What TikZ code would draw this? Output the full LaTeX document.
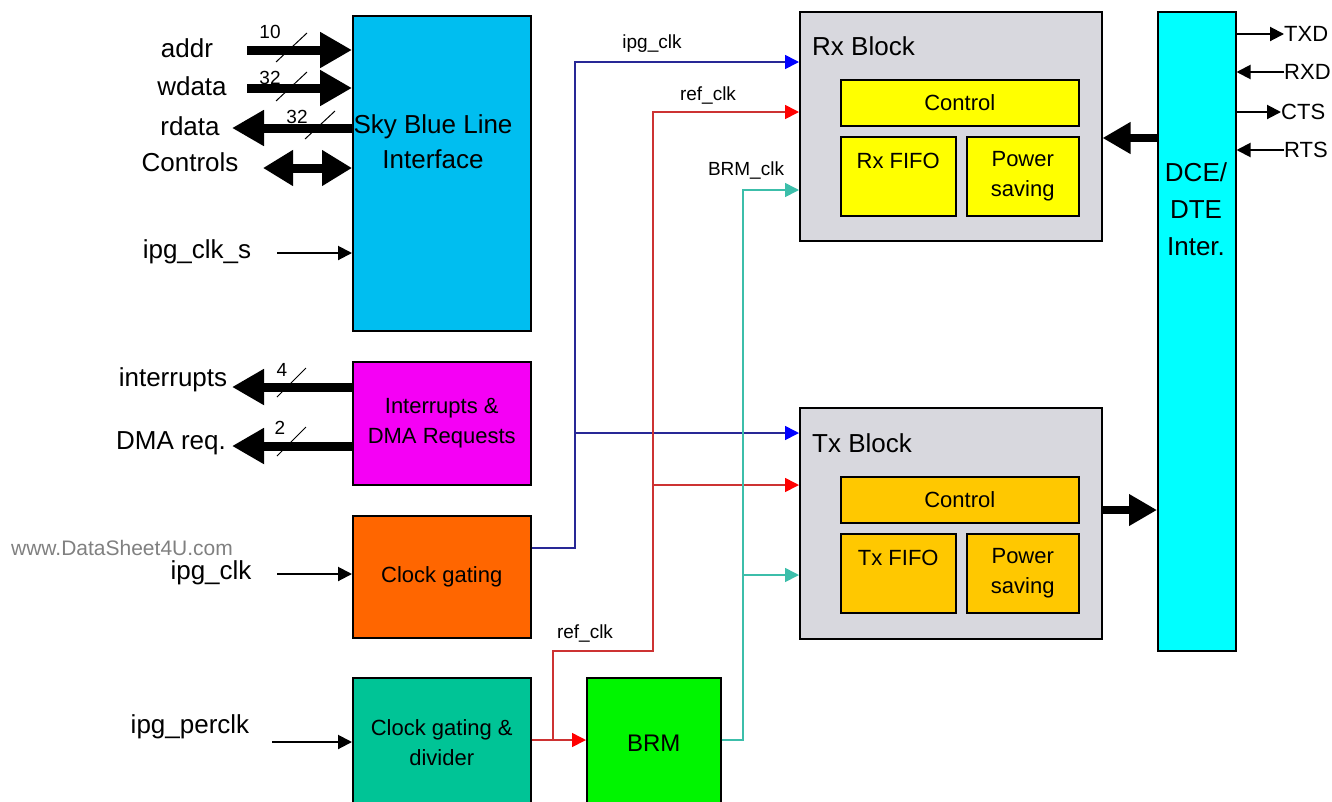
\documentclass[tikz,border=0pt]{standalone}
\usepackage{fontspec}
\setmainfont{Liberation Sans}
\usetikzlibrary{arrows.meta}
\definecolor{skyblue}{RGB}{0,190,240}
\definecolor{intrmag}{RGB}{245,0,245}
\definecolor{gateorange}{RGB}{255,102,0}
\definecolor{divteal}{RGB}{0,196,150}
\definecolor{brmgreen}{RGB}{0,245,0}
\definecolor{blockgray}{RGB}{216,216,222}
\definecolor{rxyellow}{RGB}{255,255,0}
\definecolor{txyellow}{RGB}{255,200,0}
\definecolor{dcecyan}{RGB}{0,255,255}
\definecolor{clkblue}{RGB}{40,40,150}
\definecolor{clkred}{RGB}{205,50,50}
\definecolor{clkteal}{RGB}{60,190,170}
\tikzset{
  blk/.style={draw, line width=1.5pt, anchor=north west, inner sep=0pt, align=center,
    font=\fontsize{22}{30}\selectfont},
  lbl/.style={inner sep=0pt, font=\fontsize{26}{30}\selectfont},
  pin/.style={inner sep=0pt, anchor=west, font=\fontsize{22}{26}\selectfont},
  tiny/.style={inner sep=0pt, font=\fontsize{19}{22}\selectfont},
  bus/.style={line width=9pt, -{Triangle[length=32pt,width=34pt]}},
  sig/.style={line width=2pt, -{Triangle[length=14pt,width=14pt]}},
  slash/.style={line width=1pt},
  clkb/.style={clkblue, line width=1.6pt, -{Triangle[length=14pt,width=14pt,color=blue]}},
  clkr/.style={clkred, line width=1.6pt, -{Triangle[length=14pt,width=14pt,color=red]}},
  clkt/.style={clkteal, line width=1.6pt, -{Triangle[length=14pt,width=14pt,color=clkteal]}}
}
\begin{document}
\begin{tikzpicture}[x=1pt, y=-1pt]
\useasboundingbox (0,0) rectangle (1332,801);

\node[blk, fill=skyblue, minimum width=178pt, minimum height=315pt] (sky) at (352,15) {};
\node[lbl, align=center, font=\fontsize{26}{35}\selectfont] (skytxt) at (433,142) {Sky Blue Line\\Interface};
\node[blk, fill=intrmag, minimum width=178pt, minimum height=123pt] (intr) at (352,361) {Interrupts \&\\DMA Requests};
\node[blk, fill=gateorange, minimum width=178pt, minimum height=122pt] (cgate) at (352,515) {Clock gating};
\node[blk, fill=divteal, minimum width=178pt, minimum height=130pt] (cdiv) at (352,677) {Clock gating \&\\divider};
\node[blk, fill=brmgreen, minimum width=134pt, minimum height=130pt, font=\fontsize{24}{28}\selectfont] (brm) at (586,677) {BRM};

\node[blk, fill=blockgray, minimum width=302pt, minimum height=229pt] (rx) at (799,11) {};
\node[lbl, anchor=west] (rxtxt) at (812,46) {Rx Block};
\node[blk, fill=rxyellow, minimum width=238pt, minimum height=46pt] (rxctl) at (840,79) {Control};
\node[blk, fill=rxyellow, minimum width=115pt, minimum height=79pt] (rxfifo) at (840,136) {Rx FIFO\\\mbox{}};
\node[blk, fill=rxyellow, minimum width=112pt, minimum height=79pt] (rxpwr) at (966,136) {Power\\saving};

\node[blk, fill=blockgray, minimum width=302pt, minimum height=231pt] (tx) at (799,407) {};
\node[lbl, anchor=west] (txtxt) at (812,443) {Tx Block};
\node[blk, fill=txyellow, minimum width=238pt, minimum height=46pt] (txctl) at (840,476) {Control};
\node[blk, fill=txyellow, minimum width=115pt, minimum height=79pt] (txfifo) at (840,533) {Tx FIFO\\\mbox{}};
\node[blk, fill=txyellow, minimum width=112pt, minimum height=79pt] (txpwr) at (966,533) {Power\\saving};

\node[blk, fill=dcecyan, minimum width=78pt, minimum height=639pt] (dce) at (1157,11) {};
\node[lbl, align=center, font=\fontsize{26}{37}\selectfont] (dcetxt) at (1196,209) {DCE/\\DTE\\Inter.};

\node[lbl] (addr) at (187,48) {addr};
\node[lbl] (wdata) at (192,86) {wdata};
\node[lbl] (rdata) at (190,126) {rdata};
\node[lbl] (ctrls) at (190,162) {Controls};
\node[lbl] (clks) at (197,252) {ipg\_clk\_s};
\node[lbl] (ints) at (173,380) {interrupts};
\node[lbl] (dmareq) at (171,443) {DMA req.};
\node[lbl] (ipgclk) at (211,573) {ipg\_clk};
\node[lbl] (perclk) at (190,727) {ipg\_perclk};
\node[inner sep=0pt, gray, font=\fontsize{21}{24}\selectfont] (wmark) at (122,548) {www.DataSheet4U.com};

\node[tiny] (n10) at (270,32) {10};
\node[tiny] (n32a) at (270,78) {32};
\node[tiny] (n32b) at (297,117) {32};
\node[tiny] (n4) at (282,370) {4};
\node[tiny] (n2) at (280,428) {2};

\coordinate (addrin) at (247,50);
\coordinate (wdatain) at (247,88);
\coordinate (rdataout) at (232,128);
\coordinate (ctrlend) at (263,168);
\coordinate (clksin) at (277,253);
\coordinate (intout) at (232,387);
\coordinate (dmaout) at (232,446);
\coordinate (clkin) at (277,574);
\coordinate (perin) at (272,742);

\draw[bus] (addrin) -- (addrin -| sky.west);
\draw[bus] (wdatain) -- (wdatain -| sky.west);
\draw[bus] (rdataout -| sky.west) -- (rdataout);
\draw[line width=9pt, {Triangle[length=30pt,width=34pt]}-{Triangle[length=30pt,width=34pt]}] (ctrlend) -- (ctrlend -| sky.west);
\draw[sig] (clksin) -- (clksin -| sky.west);
\draw[bus] (intout -| intr.west) -- (intout);
\draw[bus] (dmaout -| intr.west) -- (dmaout);
\draw[sig] (clkin) -- (clkin -| cgate.west);
\draw[sig] (perin) -- (perin -| cdiv.west);

\draw[slash] (276,62) -- (307,33);
\draw[slash] (276,101) -- (307,72);
\draw[slash] (305,139) -- (335,111);
\draw[slash] (277,397) -- (306,368);
\draw[slash] (277,456) -- (306,427);

\coordinate (bsplit) at (575,548);
\coordinate (rsplit) at (553,740);
\coordinate (rbend) at (653,651);
\coordinate (tsplit) at (743,740);

\draw[clkb] (cgate.east |- bsplit) -- (bsplit) -- (575,62) -- (rx.west |- 0,62);
\draw[clkb] (575,433) -- (tx.west |- 0,433);
\draw[clkr] (cdiv.east |- rsplit) -- (brm.west |- rsplit);
\draw[clkr] (rsplit) -- (553,651) -- (rbend) -- (653,112) -- (rx.west |- 0,112);
\draw[clkr] (653,485) -- (tx.west |- 0,485);
\draw[clkt] (brm.east |- tsplit) -- (tsplit) -- (743,190) -- (rx.west |- 0,190);
\draw[clkt] (743,575) -- (tx.west |- 0,575);

\node[tiny] (lipg) at (652,44) {ipg\_clk};
\node[tiny] (lref) at (708,95) {ref\_clk};
\node[tiny] (lbrm) at (746,170) {BRM\_clk};
\node[tiny] (lref2) at (585,633) {ref\_clk};

\draw[line width=8pt, -{Triangle[length=28pt,width=30pt]}] (dce.west |- 0,138) -- (rx.east |- 0,138);
\draw[line width=8pt, -{Triangle[length=28pt,width=30pt]}] (tx.east |- 0,510) -- (dce.west |- 0,510);

\node[pin] (txd) at (1284,34) {TXD};
\node[pin] (rxd) at (1284,72) {RXD};
\node[pin] (cts) at (1281,112) {CTS};
\node[pin] (rts) at (1284,150) {RTS};
\draw[sig] (dce.east |- txd) -- (txd.west);
\draw[sig] (rxd.west) -- (dce.east |- rxd);
\draw[sig] (dce.east |- cts) -- (cts.west);
\draw[sig] (rts.west) -- (dce.east |- rts);
\end{tikzpicture}
\end{document}
